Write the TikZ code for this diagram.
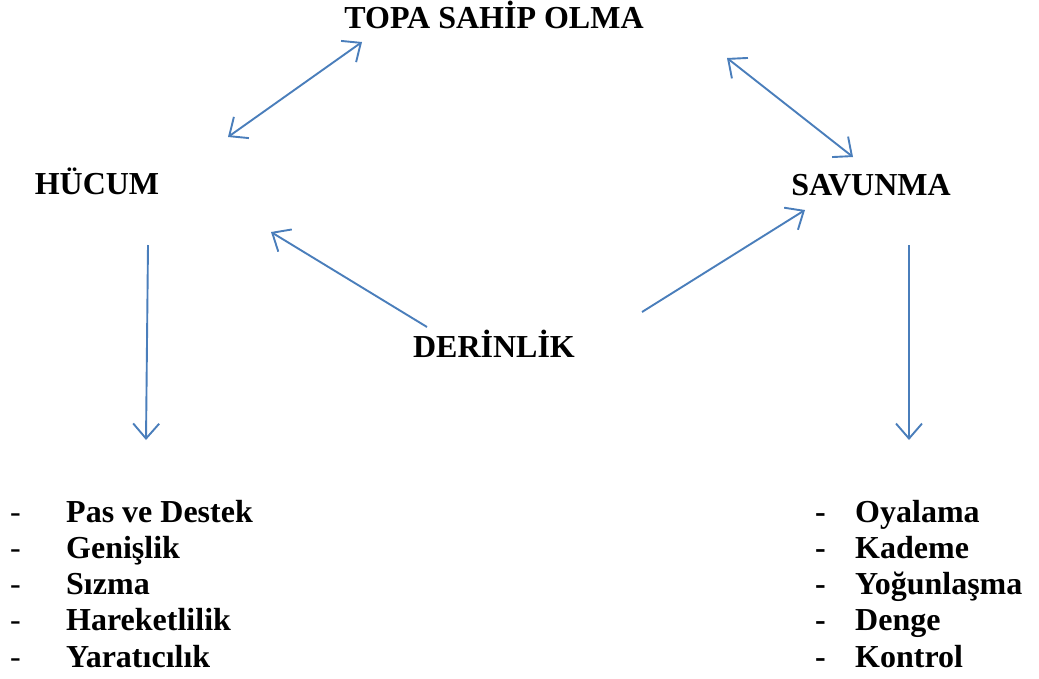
\documentclass[tikz,border=0pt]{standalone}
\usepackage{fontspec}
\setmainfont{Liberation Serif}
\usetikzlibrary{arrows.meta}
\definecolor{arrowblue}{RGB}{74,126,187}
\tikzset{
  lbl/.style={font=\fontsize{32}{36}\selectfont\bfseries, inner sep=0pt, anchor=base},
  item/.style={font=\fontsize{32}{36}\selectfont\bfseries, inner sep=0pt, anchor=base west},
  thindash/.style={font=\fontsize{32}{36}\selectfont, inner sep=0pt, anchor=base west},
  bolddash/.style={font=\fontsize{32}{36}\selectfont\bfseries, inner sep=0pt, anchor=base west},
  conn/.style={draw=arrowblue, line width=1.9pt, -{Straight Barb[length=15pt,width=26pt,line width=1.9pt]}},
  dconn/.style={draw=arrowblue, line width=1.9pt, {Straight Barb[length=15pt,width=26pt,line width=1.9pt]}-{Straight Barb[length=15pt,width=26pt,line width=1.9pt]}}
}
\begin{document}
\begin{tikzpicture}[x=1pt,y=-1pt]
\useasboundingbox (0,0) rectangle (1039,678);
% main labels
\node[lbl] (topa) at (494,28) {TOPA SAHİP OLMA};
\node[lbl] (hucum) at (97,194) {HÜCUM};
\node[lbl] (savunma) at (871,195) {SAVUNMA};
\node[lbl] (derinlik) at (494,357) {DERİNLİK};
% arrow end points
\coordinate (a1s) at (228,137);
\coordinate (a1e) at (362,42);
\coordinate (a2s) at (727,58);
\coordinate (a2e) at (853,157);
\coordinate (a3s) at (427,327);
\coordinate (a3e) at (271,232);
\coordinate (a4s) at (642,312);
\coordinate (a4e) at (805,210);
\coordinate (a5s) at (148,245);
\coordinate (a5e) at (146,440);
\coordinate (a6s) at (909,245);
\coordinate (a6e) at (909,440);
\draw[dconn] (a1s) -- (a1e);
\draw[dconn] (a2s) -- (a2e);
\draw[conn] (a3s) -- (a3e);
\draw[conn] (a4s) -- (a4e);
\draw[conn] (a5s) -- (a5e);
\draw[conn] (a6s) -- (a6e);
% left list
\foreach \t [count=\i from 0] in {Pas ve Destek,Genişlik,Sızma,Hareketlilik,Yaratıcılık}{
  \node[thindash] (ld\i) at (10,522+36.3*\i) {-};
  \node[item] (li\i) at (66,522+36.3*\i) {\t};
}
% right list
\foreach \t [count=\i from 0] in {Oyalama,Kademe,Yoğunlaşma,Denge,Kontrol}{
  \node[bolddash] (rd\i) at (815,522+36.3*\i) {-};
  \node[item] (ri\i) at (855,522+36.3*\i) {\t};
}
\end{tikzpicture}
\end{document}
